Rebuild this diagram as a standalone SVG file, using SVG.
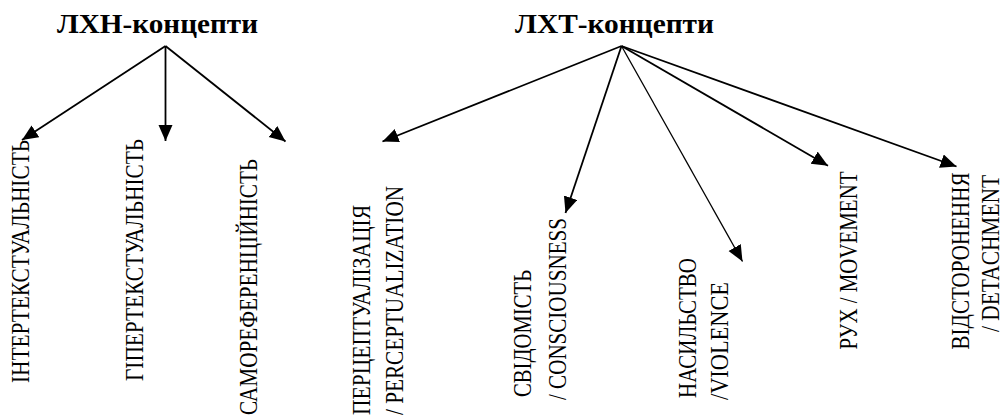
<svg xmlns="http://www.w3.org/2000/svg" width="1004" height="417" viewBox="0 0 1004 417">
<style>
.title{font-family:"Liberation Serif","Times New Roman",serif;font-weight:bold;font-size:28px;fill:#000}
.lbl{font-family:"Liberation Serif","Times New Roman",serif;font-size:25px;fill:#000}
.conn{stroke:#000;stroke-width:1.8;fill:none;marker-end:url(#ah)}
.thin{stroke-width:1.3}
</style>
<defs>
<marker id="ah" markerUnits="userSpaceOnUse" markerWidth="17" markerHeight="15" refX="16" refY="7" orient="auto" viewBox="0 0 17 15">
<path d="M0,0 L16,7 L0,14 Z" fill="#000"/>
</marker>
</defs>
<rect width="1004" height="417" fill="#fff"/>
<g id="connectors">
<line class="conn" x1="165.5" y1="46" x2="22" y2="140"/>
<line class="conn" x1="165.5" y1="46" x2="165.5" y2="141"/>
<line class="conn" x1="165.5" y1="46" x2="285.5" y2="141.5"/>
<line class="conn" x1="621.5" y1="46" x2="382.5" y2="141.5"/>
<line class="conn" x1="621.5" y1="46" x2="565.5" y2="213"/>
<line class="conn thin" x1="621.5" y1="46" x2="742.5" y2="261.5"/>
<line class="conn" x1="621.5" y1="46" x2="828" y2="165.7"/>
<line class="conn" x1="621.5" y1="46" x2="956.5" y2="166.5"/>
</g>
<g id="lxh"><text class="title" x="57" y="33" textLength="201" lengthAdjust="spacingAndGlyphs">ЛХН-концепти</text></g>
<g id="lxt"><text class="title" x="515" y="33" textLength="199" lengthAdjust="spacingAndGlyphs">ЛХТ-концепти</text></g>
<g id="intertext"><text class="lbl" transform="translate(29,383) rotate(-90)" textLength="243" lengthAdjust="spacingAndGlyphs">ІНТЕРТЕКСТУАЛЬНІСТЬ</text></g>
<g id="hypertext"><text class="lbl" transform="translate(142.5,381) rotate(-90)" textLength="242" lengthAdjust="spacingAndGlyphs">ГІПЕРТЕКСТУАЛЬНІСТЬ</text></g>
<g id="selfref"><text class="lbl" transform="translate(256.5,415) rotate(-90)" textLength="256" lengthAdjust="spacingAndGlyphs">САМОРЕФЕРЕНЦІЙНІСТЬ</text></g>
<g id="perception">
<text class="lbl" transform="translate(370,415) rotate(-90)" textLength="210" lengthAdjust="spacingAndGlyphs">ПЕРЦЕПТУАЛІЗАЦІЯ</text>
<text class="lbl" transform="translate(403,415) rotate(-90)" textLength="229" lengthAdjust="spacingAndGlyphs">/ PERCEPTUALIZATION</text>
</g>
<g id="consciousness">
<text class="lbl" transform="translate(531,397) rotate(-90)" textLength="127" lengthAdjust="spacingAndGlyphs">СВІДОМІСТЬ</text>
<text class="lbl" transform="translate(566,400) rotate(-90)" textLength="182" lengthAdjust="spacingAndGlyphs">/ CONSCIOUSNESS</text>
</g>
<g id="violence">
<text class="lbl" transform="translate(695.5,398) rotate(-90)" textLength="140" lengthAdjust="spacingAndGlyphs">НАСИЛЬСТВО</text>
<text class="lbl" transform="translate(728,400) rotate(-90)" textLength="118" lengthAdjust="spacingAndGlyphs">/VIOLENCE</text>
</g>
<g id="movement">
<text class="lbl" transform="translate(857,349.5) rotate(-90)" textLength="178" lengthAdjust="spacingAndGlyphs">РУХ / MOVEMENT</text>
</g>
<g id="detachment">
<text class="lbl" transform="translate(969,349.5) rotate(-90)" textLength="177" lengthAdjust="spacingAndGlyphs">ВІДСТОРОНЕННЯ</text>
<text class="lbl" transform="translate(998.5,332) rotate(-90)" textLength="157" lengthAdjust="spacingAndGlyphs">/ DETACHMENT</text>
</g>
</svg>
